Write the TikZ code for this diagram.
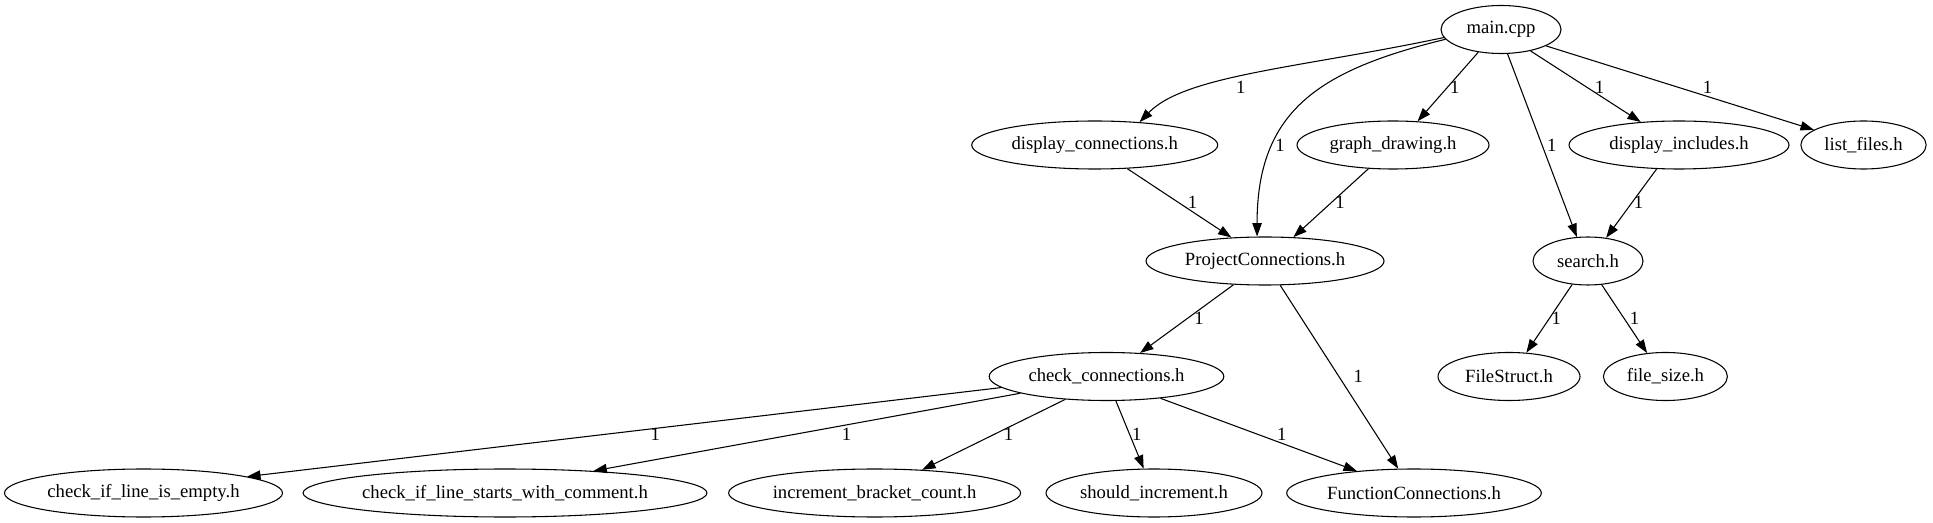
\documentclass[tikz,border=0pt]{standalone}
\usepackage{fontspec}
\setmainfont{Liberation Serif}
\usetikzlibrary{arrows.meta,shapes.geometric}
\tikzset{
  gnode/.style={draw, ellipse, line width=0.8pt, inner sep=0pt, minimum height=36pt, font=\fontsize{14}{16}\selectfont},
  gedge/.style={draw, line width=0.8pt, -{Triangle[length=10pt,width=7pt]}},
  glabel/.style={inner sep=0pt, font=\fontsize{14}{16}\selectfont}
}
\begin{document}
\begin{tikzpicture}[x=0.75pt,y=-0.75pt]
\useasboundingbox (0,0) rectangle (1933,523);
% rank 1
\node[gnode, minimum width=90pt] (main) at (1501,29.5) {main.cpp};
% rank 2
\node[gnode, minimum width=184.5pt] (dc) at (1094.7,145) {display\_connections.h};
\node[gnode, minimum width=144pt] (gd) at (1393,145) {graph\_drawing.h};
\node[gnode, minimum width=165pt] (di) at (1679,145) {display\_includes.h};
\node[gnode, minimum width=94pt] (lf) at (1863.5,145) {list\_files.h};
% rank 3
\node[gnode, minimum width=178.5pt] (pc) at (1265,261) {ProjectConnections.h};
\node[gnode, minimum width=82.5pt] (se) at (1588,261) {search.h};
% rank 4
\node[gnode, minimum width=176pt] (cc) at (1106.5,376.5) {check\_connections.h};
\node[gnode, minimum width=106.5pt] (fs) at (1509,376.5) {FileStruct.h};
\node[gnode, minimum width=93pt] (fz) at (1665.4,376.5) {file\_size.h};
% rank 5
\node[gnode, minimum width=208.5pt] (e1) at (143.5,493) {check\_if\_line\_is\_empty.h};
\node[gnode, minimum width=297.5pt] (e2) at (505,493) {check\_if\_line\_starts\_with\_comment.h};
\node[gnode, minimum width=219pt] (e3) at (874.6,493) {increment\_bracket\_count.h};
\node[gnode, minimum width=162pt] (e4) at (1154,493) {should\_increment.h};
\node[gnode, minimum width=191pt] (fc) at (1414,493) {FunctionConnections.h};

% edges from main
\draw[gedge] (main.188) .. controls (1300,68) and (1185,75) .. (dc.27.6);
\draw[gedge] (main.190) .. controls (1320,70) and (1257,110) .. (pc.108);
\draw[gedge] (main.225.9) -- (gd.44.4);
\draw[gedge] (main.285) -- (se.115);
\draw[gedge] (main.324.7) -- (di.149.7);
\draw[gedge] (main.340.9) -- (lf.163.4);
% rank 2 -> 3
\draw[gedge] (dc.-36.9) -- (pc.145.5);
\draw[gedge] (gd.224.4) -- (pc.40.7);
\draw[gedge] (di.227.6) -- (se.52.4);
% rank 3 -> 4/5
\draw[gedge] (pc.217.2) -- (cc.35.8);
\draw[gedge] (pc.302.7) -- (fc.123);
\draw[gedge] (se.236.3) -- (fs.54.2);
\draw[gedge] (se.300.3) -- (fz.128.7);
% rank 4 -> 5
\draw[gedge] (cc.186.6) -- (e1.9.3);
\draw[gedge] (cc.191.9) -- (e2.14);
\draw[gedge] (cc.209) -- (e3.26.3);
\draw[gedge] (cc.291.6) -- (e4.113);
\draw[gedge] (cc.338) -- (fc.159.4);

% edge labels
\node[glabel] (l1) at (1240.7,87.3) {1};
\node[glabel] (l2) at (1280,145) {1};
\node[glabel] (l3) at (1454.7,87.3) {1};
\node[glabel] (l4) at (1551.8,145) {1};
\node[glabel] (l5) at (1599.4,87) {1};
\node[glabel] (l6) at (1707.4,87.3) {1};
\node[glabel] (l7) at (1192.6,202.3) {1};
\node[glabel] (l8) at (1340,202.3) {1};
\node[glabel] (l9) at (1638.4,202.5) {1};
\node[glabel] (l10) at (1198.9,318.3) {1};
\node[glabel] (l11) at (1358.2,376.3) {1};
\node[glabel] (l12) at (1556.3,318.3) {1};
\node[glabel] (l13) at (1634.6,318.3) {1};
\node[glabel] (l14) at (655.4,434) {1};
\node[glabel] (l15) at (846.6,434.5) {1};
\node[glabel] (l16) at (1008.6,434.5) {1};
\node[glabel] (l17) at (1136.8,434.5) {1};
\node[glabel] (l18) at (1281.7,434) {1};
\end{tikzpicture}
\end{document}
